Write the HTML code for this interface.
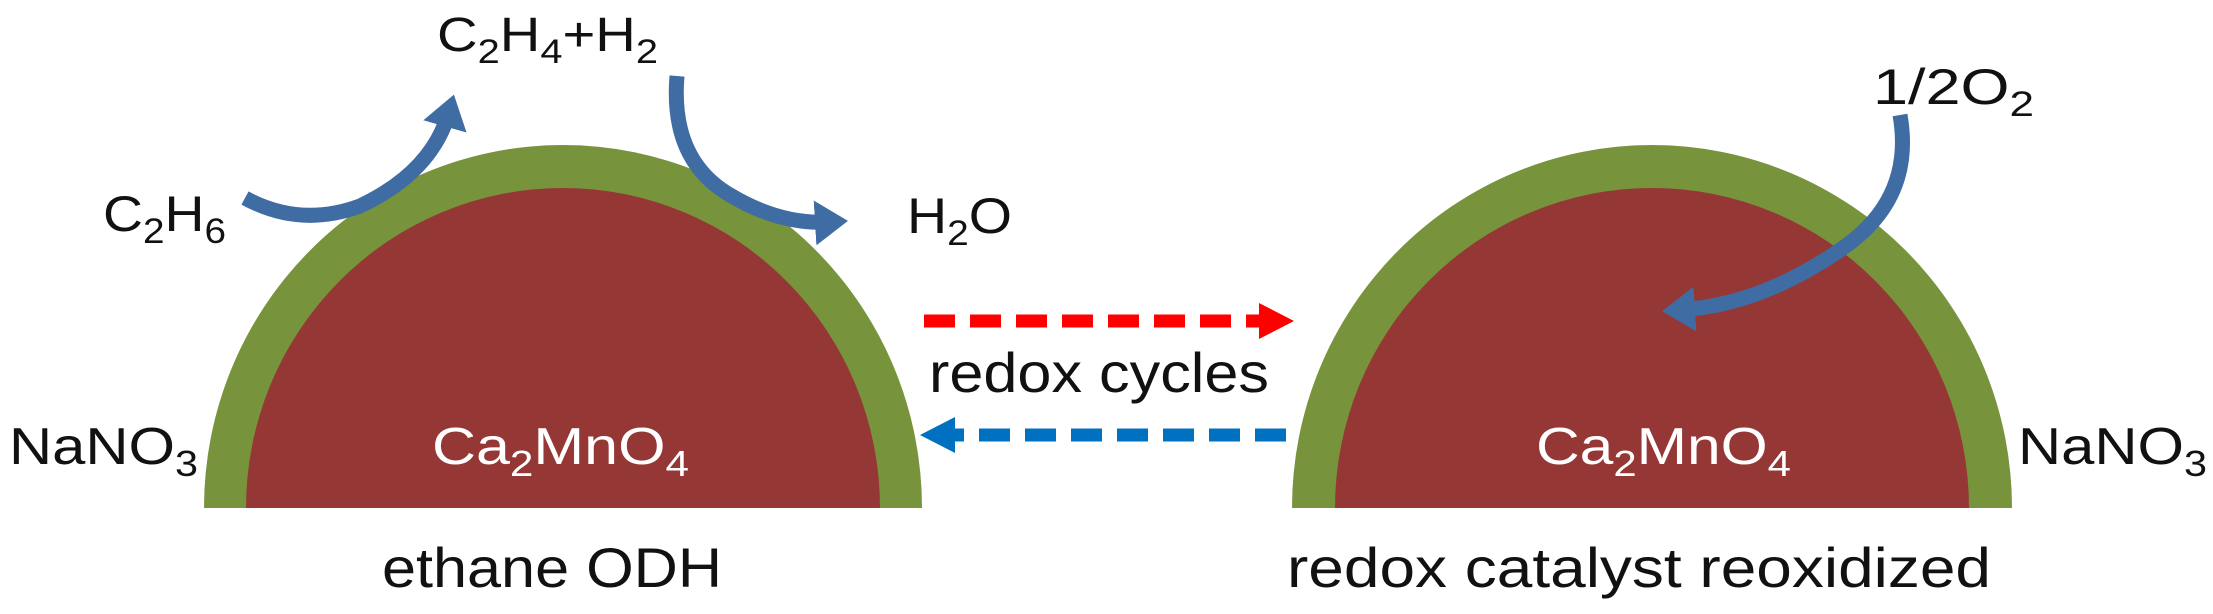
<!DOCTYPE html>
<html><head><meta charset="utf-8"><style>
html,body{margin:0;padding:0;background:#fff}
svg{display:block}
text{font-family:"Liberation Sans",sans-serif;fill:#111}
</style></head><body>
<svg width="2213" height="614" viewBox="0 0 2213 614" xmlns="http://www.w3.org/2000/svg">
<defs>
<marker id="bh" markerWidth="3" markerHeight="3" refX="1" refY="1.5" orient="auto" markerUnits="strokeWidth">
<path d="M0,0 L2.2,1.5 L0,3 z" fill="#3f6ca3"/></marker>
</defs>
<!-- left dome -->
<path d="M204,508 A359,363 0 0 1 922,508 Z" fill="#77933c"/>
<path d="M246,508 A317,320 0 0 1 880,508 Z" fill="#953735"/>
<!-- right dome -->
<path d="M1292,508 A360,363 0 0 1 2012,508 Z" fill="#77933c"/>
<path d="M1335,508 A317,320 0 0 1 1969,508 Z" fill="#953735"/>

<!-- curved arrows -->
<path d="M245,198 Q300,228 360,206 Q432,172 449,112" fill="none" stroke="#3f6ca3" stroke-width="15" marker-end="url(#bh)"/>
<path d="M677,76 Q670,160 730,195 Q780,225 830,222" fill="none" stroke="#3f6ca3" stroke-width="15" marker-end="url(#bh)"/>
<path d="M1900,115 Q1915,200 1840,250 Q1760,305 1680,310" fill="none" stroke="#3f6ca3" stroke-width="15" marker-end="url(#bh)"/>

<!-- dashed arrows -->
<line x1="924" y1="321" x2="1262" y2="321" stroke="#ff0000" stroke-width="13" stroke-dasharray="31,15"/>
<path d="M1259,303 L1294,321 L1259,339 Z" fill="#ff0000"/>
<line x1="1286" y1="435" x2="953" y2="435" stroke="#0070c0" stroke-width="13" stroke-dasharray="31,15"/>
<path d="M955,417 L920,435 L955,453 Z" fill="#0070c0"/>

<!-- labels -->
<text x="437" y="51" font-size="48" textLength="221" lengthAdjust="spacingAndGlyphs">C<tspan font-size="34" dy="12">2</tspan><tspan dy="-12">H</tspan><tspan font-size="34" dy="12">4</tspan><tspan dy="-12">+H</tspan><tspan font-size="34" dy="12">2</tspan></text>
<text x="103" y="231" font-size="50" textLength="123" lengthAdjust="spacingAndGlyphs">C<tspan font-size="35" dy="12">2</tspan><tspan dy="-12">H</tspan><tspan font-size="35" dy="12">6</tspan></text>
<text x="907" y="233" font-size="50" textLength="105" lengthAdjust="spacingAndGlyphs">H<tspan font-size="35" dy="12">2</tspan><tspan dy="-12">O</tspan></text>
<text x="1873" y="104" font-size="50" textLength="161" lengthAdjust="spacingAndGlyphs">1/2O<tspan font-size="35" dy="12">2</tspan></text>
<text x="9" y="464" font-size="52" textLength="189" lengthAdjust="spacingAndGlyphs">NaNO<tspan font-size="36" dy="12">3</tspan></text>
<text x="2018" y="464" font-size="52" textLength="189" lengthAdjust="spacingAndGlyphs">NaNO<tspan font-size="36" dy="12">3</tspan></text>
<text x="432" y="464" font-size="52" textLength="257" lengthAdjust="spacingAndGlyphs" style="fill:#fff">Ca<tspan font-size="36" dy="12">2</tspan><tspan dy="-12">MnO</tspan><tspan font-size="36" dy="12">4</tspan></text>
<text x="1536" y="464" font-size="52" textLength="255" lengthAdjust="spacingAndGlyphs" style="fill:#fff">Ca<tspan font-size="36" dy="12">2</tspan><tspan dy="-12">MnO</tspan><tspan font-size="36" dy="12">4</tspan></text>
<text x="929" y="392" font-size="56" textLength="340" lengthAdjust="spacingAndGlyphs">redox cycles</text>
<text x="382" y="587" font-size="56" textLength="340" lengthAdjust="spacingAndGlyphs">ethane ODH</text>
<text x="1287" y="587" font-size="56" textLength="704" lengthAdjust="spacingAndGlyphs">redox  catalyst reoxidized</text>
</svg>
</body></html>
